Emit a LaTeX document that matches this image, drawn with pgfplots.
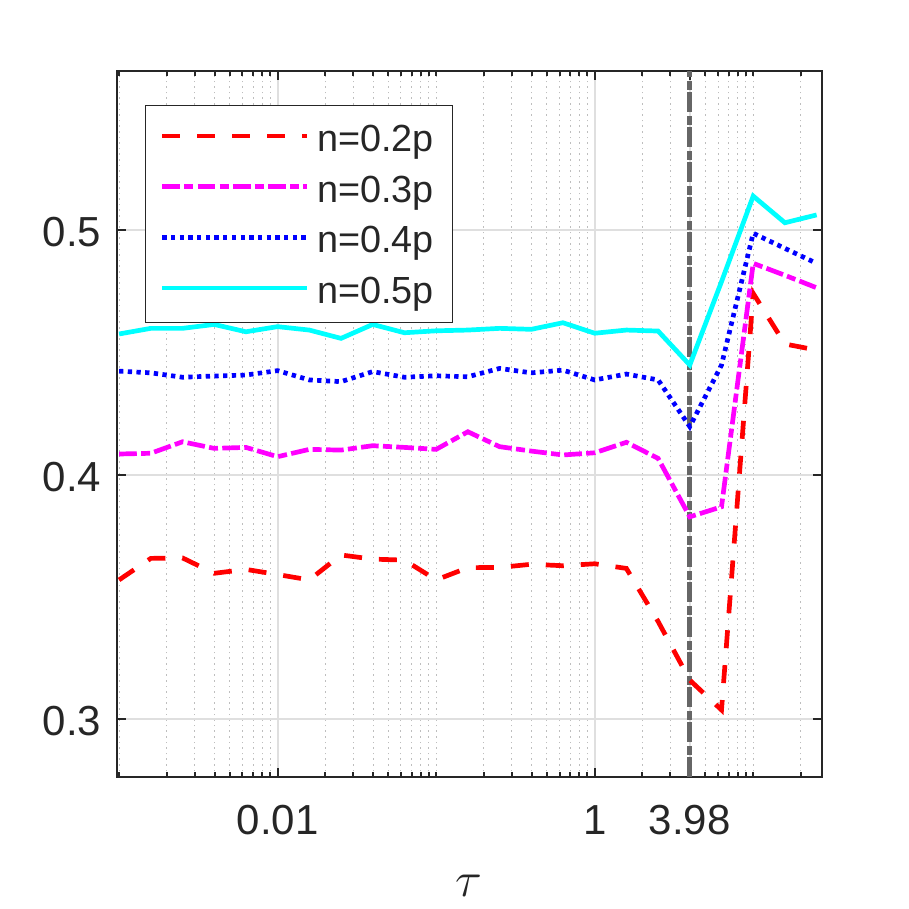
\documentclass[border=0pt]{standalone}
\usepackage{pgfplots}
\pgfplotsset{compat=1.18}
\usepackage{fontspec}
\setmainfont{Liberation Sans}
\definecolor{axc}{RGB}{38,38,38}
\definecolor{majg}{RGB}{223,223,223}
\definecolor{ming}{RGB}{190,190,190}
\definecolor{vgray}{RGB}{102,102,102}
\definecolor{mred}{RGB}{255,0,0}
\definecolor{mmag}{RGB}{255,0,255}
\definecolor{mblue}{RGB}{0,0,255}
\definecolor{mcyan}{RGB}{0,255,255}

\pgfplotstableread{
x r m b c
0.001    0.3570 0.4085 0.4424 0.4576
0.001585 0.3658 0.4088 0.4417 0.4599
0.002512 0.3660 0.4135 0.4399 0.4599
0.003981 0.3597 0.4108 0.4404 0.4615
0.006310 0.3613 0.4112 0.4408 0.4585
0.01     0.3592 0.4074 0.4426 0.4606
0.01585  0.3570 0.4104 0.4388 0.4592
0.02512  0.3672 0.4101 0.4381 0.4558
0.03981  0.3655 0.4119 0.4422 0.4615
0.06310  0.3651 0.4112 0.4399 0.4581
0.1      0.3570 0.4104 0.4405 0.4589
0.1585   0.3620 0.4176 0.4401 0.4592
0.2512   0.3621 0.4115 0.4435 0.4599
0.3981   0.3634 0.4097 0.4417 0.4595
0.6310   0.3628 0.4081 0.4428 0.4622
1        0.3636 0.4090 0.4388 0.4579
1.585    0.3617 0.4133 0.4412 0.4592
2.512    0.3400 0.4067 0.4388 0.4588
3.981    0.3160 0.3828 0.4197 0.4449
6.310    0.3038 0.3869 0.4449 0.4790
10       0.4742 0.4865 0.4988 0.5140
15.85    0.4535 0.4816 0.4926 0.5031
25.12    0.4510 0.4765 0.4865 0.5063
}\datatab

\begin{document}
\begin{tikzpicture}
\path[use as bounding box] (-58.35pt,-66.15pt) rectangle (396.15pt,388.35pt);
\begin{axis}[
  at={(0pt,0pt)}, anchor=south west,
  scale only axis, width=352.5pt, height=353pt,
  xmode=log, xmin=0.000966, xmax=27.04, ymin=0.2765, ymax=0.5653,
  xtick={0.01,1,3.98}, xticklabels={0.01,1,3.98},
  minor xtick={0.001,0.002,0.003,0.004,0.005,0.006,0.007,0.008,0.009,
    0.02,0.03,0.04,0.05,0.06,0.07,0.08,0.09,0.1,
    0.2,0.3,0.4,0.5,0.6,0.7,0.8,0.9,
    2,3,4,5,6,7,8,9,10,20},
  ytick={0.3,0.4,0.5}, yticklabels={0.3,0.4,0.5},
  xmajorgrids=true, ymajorgrids=true, xminorgrids=true,
  major grid style={majg, line width=0.9pt},
  minor grid style={ming, line width=0.5pt, dash pattern=on 0.8pt off 2pt},
  axis line style={axc, line width=1pt},
  tick style={axc, line width=1pt},
  major tick length=4.5pt, minor tick length=2.5pt,
  tick label style={font=\fontsize{21}{21}\selectfont, text=axc, inner sep=0pt},
  xticklabel style={anchor=north, yshift=-14.15pt},
  yticklabel style={anchor=east, xshift=-7.5pt, yshift=-1pt},
  xlabel={$\tau$},
  xlabel style={at={(axis description cs:0.5,0)}, anchor=center, inner sep=0pt,
    yshift=-54.5pt, font=\fontsize{28}{28}\selectfont, text=axc},
  legend cell align=left,
  legend image code/.code={\draw[#1, line cap=butt] (0pt,1pt) -- (72.35pt,1pt);},
  legend style={at={(axis description cs:0.0401,0.9514)}, anchor=north west,
    draw=axc, line width=0.65pt, fill=white,
    inner xsep=7.15pt, inner ysep=3.5pt, row sep=0pt, column sep=4pt,
    font=\fontsize{18.9}{18.9}\selectfont, text=axc,
    nodes={inner sep=0pt, text=axc, text height=19.42pt, text depth=5.92pt}},
]
\addplot[forget plot, vgray, line width=2.65pt, line cap=butt,
  dash pattern=on 9.65pt off 1.35pt on 4.15pt off 2.35pt]
  coordinates {(3.98,0.2765) (3.98,0.5653)};
\addplot[mred, line width=2.35pt, dash pattern=on 9pt off 8.5pt] table[x=x,y=r] {\datatab};
\addlegendentry{n=0.2p\hspace*{2.25pt}}
\addplot[mmag, line width=2.35pt, dash pattern=on 8.85pt off 2.15pt on 4.5pt off 2.15pt] table[x=x,y=m] {\datatab};
\addlegendentry{n=0.3p\hspace*{2.25pt}}
\addplot[mblue, line width=2.35pt, dash pattern=on 2.15pt off 2.2pt] table[x=x,y=b] {\datatab};
\addlegendentry{n=0.4p\hspace*{2.25pt}}
\addplot[mcyan, line width=2.35pt] table[x=x,y=c] {\datatab};
\addlegendentry{n=0.5p\hspace*{2.25pt}}
\end{axis}
\end{tikzpicture}
\end{document}
